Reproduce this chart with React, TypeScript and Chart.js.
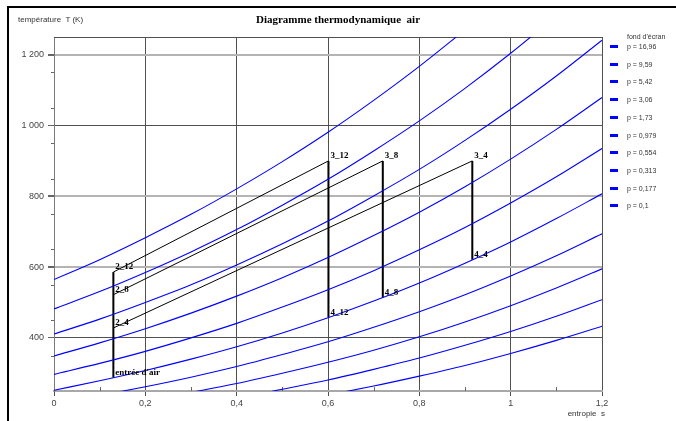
import React, { useEffect, useRef } from "react";
import { Chart, registerables } from "chart.js";

Chart.register(...registerables);

// ---- data ----
const S_GRID = [0, 0.1, 0.2, 0.3, 0.4, 0.5, 0.6, 0.7, 0.8, 0.9, 1.0, 1.1, 1.2];
const PRESSURES = ["16,96", "9,59", "5,42", "3,06", "1,73", "0,979", "0,554", "0,313", "0,177", "0,1"];
const T_P16_96 = [565, 621, 683, 749, 821, 898, 981, 1071, 1167, 1270, null, null, null];
const T_P9_59 = [482, 531, 585, 643, 706, 775, 848, 928, 1013, 1105, 1204, 1310, null];
const T_P5_42 = [411, 453, 500, 550, 606, 666, 730, 801, 876, 958, 1046, 1140, 1241];
const T_P3_06 = [349, 386, 426, 470, 518, 570, 627, 689, 755, 827, 905, 989, 1079];
const T_P1_73 = [297, 328, 362, 400, 441, 487, 536, 590, 649, 712, 781, 855, 935];
const T_P0_979 = [252, 279, 308, 340, 375, 414, 457, 504, 555, 611, 671, 737, 807];
const T_P0_554 = [214, 237, 262, 289, 319, 353, 389, 430, 474, 522, 575, 632, 694];
const T_P0_313 = [null, 201, 222, 246, 271, 300, 331, 365, 403, 445, 491, 541, 595];
const T_P0_177 = [null, null, null, 209, 230, 255, 281, 311, 343, 379, 418, 461, 508];
const T_P0_1 = [null, null, null, null, null, 216, 239, 264, 292, 322, 356, 393, 433];

const INLET_LABEL = "entrée d'air";
const S_INLET = 0.13;
const T_INLET = 288;
const RATIOS = ["4", "8", "12"];
const T_COMPRESSOR_OUT = [428, 522, 586];
const S_TURBINE = [0.916, 0.72, 0.601];
const T_TURBINE_IN = [900, 900, 900];
const T_TURBINE_OUT = [621, 514, 458];

const Y_TICKS = [400, 600, 800, 1000, 1200];
const Y_MINOR = [350, 450, 550, 650, 750, 850, 950, 1050, 1150];
const X_TICKS = [0, 0.2, 0.4, 0.6, 0.8, 1, 1.2];
const X_MINOR = [0.1, 0.3, 0.5, 0.7, 0.9, 1.1];

const TITLE = "Diagramme thermodynamique  air";
const Y_TITLE = "température  T (K)";
const X_TITLE = "entropie  s";
const LEGEND_HEAD = "fond d'écran";

const fmtY = (v: number) =>
  v >= 1000 ? `${Math.floor(v / 1000)} ${String(v % 1000).padStart(3, "0")}` : String(v);

export default function App() {
  const ref = useRef<HTMLCanvasElement>(null);

  useEffect(() => {
    const canvas = ref.current;
    if (!canvas) return;
    const curves = [T_P16_96, T_P9_59, T_P5_42, T_P3_06, T_P1_73, T_P0_979, T_P0_554, T_P0_313, T_P0_177, T_P0_1];
    const datasets: any[] = curves.map((arr, k) => ({
      label: "p = " + PRESSURES[k],
      data: S_GRID.map((s, i) => ({ x: s, y: arr[i] })),
      borderColor: "#0000ff",
      borderWidth: 1.1,
      pointRadius: 0,
      showLine: true,
      cubicInterpolationMode: "monotone",
      spanGaps: false,
      clip: 0,
    }));
    const topT = Math.max(...T_COMPRESSOR_OUT);
    datasets.push({
      label: "compression",
      data: [{ x: S_INLET, y: T_INLET }, { x: S_INLET, y: topT }],
      borderColor: "#000",
      borderWidth: 2,
      pointRadius: 0,
      showLine: true,
    });
    RATIOS.forEach((r, i) => {
      datasets.push({
        label: "chauffe " + r,
        data: [{ x: S_INLET, y: T_COMPRESSOR_OUT[i] }, { x: S_TURBINE[i], y: T_TURBINE_IN[i] }],
        borderColor: "#000",
        borderWidth: 1,
        pointRadius: 0,
        showLine: true,
      });
      datasets.push({
        label: "détente " + r,
        data: [{ x: S_TURBINE[i], y: T_TURBINE_IN[i] }, { x: S_TURBINE[i], y: T_TURBINE_OUT[i] }],
        borderColor: "#000",
        borderWidth: 2,
        pointRadius: 0,
        showLine: true,
      });
    });

    const labels: { text: string; s: number; t: number }[] = [{ text: INLET_LABEL, s: S_INLET, t: T_INLET }];
    RATIOS.forEach((r, i) => {
      labels.push({ text: "2_" + r, s: S_INLET, t: T_COMPRESSOR_OUT[i] });
      labels.push({ text: "3_" + r, s: S_TURBINE[i], t: T_TURBINE_IN[i] });
      labels.push({ text: "4_" + r, s: S_TURBINE[i], t: T_TURBINE_OUT[i] });
    });

    const extras = {
      id: "extras",
      beforeDatasetsDraw(chart: any) {
        const { ctx, chartArea, scales } = chart;
        const x = scales.x, y = scales.y;
        ctx.save();
        ctx.strokeStyle = "#505050";
        ctx.lineWidth = 1;
        ctx.beginPath();
        ctx.moveTo(chartArea.left, Math.round(chartArea.top) + 0.5);
        ctx.lineTo(chartArea.right, Math.round(chartArea.top) + 0.5);
        ctx.stroke();
        ctx.strokeStyle = "#666";
        ctx.beginPath();
        Y_MINOR.forEach((v) => {
          const py = Math.round(y.getPixelForValue(v)) + 0.5;
          ctx.moveTo(chartArea.left - 3, py);
          ctx.lineTo(chartArea.left, py);
        });
        X_MINOR.forEach((v) => {
          const px = Math.round(x.getPixelForValue(v)) + 0.5;
          ctx.moveTo(px, chartArea.bottom);
          ctx.lineTo(px, chartArea.bottom - 4);
        });
        ctx.stroke();
        ctx.restore();
      },
      afterDatasetsDraw(chart: any) {
        const { ctx, scales } = chart;
        ctx.save();
        ctx.font = 'bold 9px "Liberation Serif"';
        ctx.fillStyle = "#000";
        ctx.textBaseline = "middle";
        ctx.textAlign = "left";
        labels.forEach((l) => {
          ctx.fillText(l.text, scales.x.getPixelForValue(l.s) + 2, scales.y.getPixelForValue(l.t) - 5);
        });
        ctx.restore();
      },
    };

    const chart = new Chart(canvas, {
      type: "scatter",
      data: { datasets },
      plugins: [extras],
      options: {
        animation: false,
        responsive: false,
        devicePixelRatio: 1,
        events: [],
        layout: { padding: { left: 0, right: 74, top: 37, bottom: 0 } },
        plugins: { legend: { display: false }, tooltip: { enabled: false }, title: { display: false } },
        scales: {
          x: {
            type: "linear",
            min: 0,
            max: 1.2,
            afterFit: (s: any) => {
              s.height = 30;
            },
            afterBuildTicks: (s: any) => {
              s.ticks = X_TICKS.map((v) => ({ value: v }));
            },
            ticks: {
              callback: (v: any) => String(v).replace(".", ","),
              font: { family: "Liberation Sans", size: 9 },
              color: "#444",
              padding: 2,
              maxRotation: 0,
              autoSkip: false,
            },
            grid: { color: "#505050", lineWidth: 1, tickLength: 5, tickColor: "#505050" },
            border: { color: "#a8a8a8", width: 2 },
          },
          y: {
            type: "linear",
            min: 250,
            max: 1250,
            afterFit: (s: any) => {
              s.width = 54;
            },
            afterBuildTicks: (s: any) => {
              s.ticks = Y_TICKS.map((v) => ({ value: v }));
            },
            ticks: {
              callback: (v: any) => fmtY(Number(v)),
              font: { family: "Liberation Sans", size: 9 },
              color: "#444",
              padding: 4,
              autoSkip: false,
            },
            grid: {
              color: (c: any) => (c.tick && (c.tick.value === 1000 || c.tick.value === 400) ? "#505050" : "#b4b4b4"),
              lineWidth: (c: any) => (c.tick && (c.tick.value === 1000 || c.tick.value === 400) ? 1 : 2),
              tickLength: 6,
              tickColor: "#666",
            },
            border: { color: "#7a7a7a", width: 1 },
          },
        },
      } as any,
    });
    return () => chart.destroy();
  }, []);

  const legendTops = [46, 64, 81, 99, 117, 135, 152, 170, 188, 205];

  return (
    <div style={{ position: "fixed", left: 0, top: 0, width: 676, height: 421, background: "#fff", overflow: "hidden" }}>
      <div
        style={{
          position: "absolute",
          left: 7,
          top: 6,
          width: 720,
          height: 500,
          borderLeft: "2px solid #000",
          borderTop: "2px solid #000",
        }}
      />
      <canvas ref={ref} width={676} height={421} style={{ position: "absolute", left: 0, top: 0, width: 676, height: 421 }} />
      <div
        style={{
          position: "absolute",
          left: 0,
          width: 676,
          top: 13,
          textAlign: "center",
          font: 'bold 11px "Liberation Serif"',
          lineHeight: "12px",
          color: "#000",
          whiteSpace: "pre",
        }}
      >
        {TITLE}
      </div>
      <div style={{ position: "absolute", left: 18, top: 15, font: '8px "Liberation Sans"', lineHeight: "10px", color: "#333", whiteSpace: "pre" }}>
        {Y_TITLE}
      </div>
      <div
        style={{
          position: "absolute",
          right: 676 - 605,
          top: 409,
          font: '8px "Liberation Sans"',
          lineHeight: "10px",
          color: "#333",
          whiteSpace: "pre",
        }}
      >
        {X_TITLE}
      </div>
      <div style={{ position: "absolute", left: 627, top: 32, font: '7px "Liberation Sans"', lineHeight: "9px", color: "#333" }}>
        {LEGEND_HEAD}
      </div>
      {PRESSURES.map((p, i) => (
        <React.Fragment key={p}>
          <div style={{ position: "absolute", left: 610, top: legendTops[i] - 1, width: 8, height: 3, background: "#0000ff" }} />
          <div
            style={{
              position: "absolute",
              left: 627,
              top: legendTops[i] - 4.5,
              font: '7px "Liberation Sans"',
              lineHeight: "9px",
              color: "#333",
              whiteSpace: "pre",
            }}
          >
            {"p = " + p}
          </div>
        </React.Fragment>
      ))}
    </div>
  );
}
